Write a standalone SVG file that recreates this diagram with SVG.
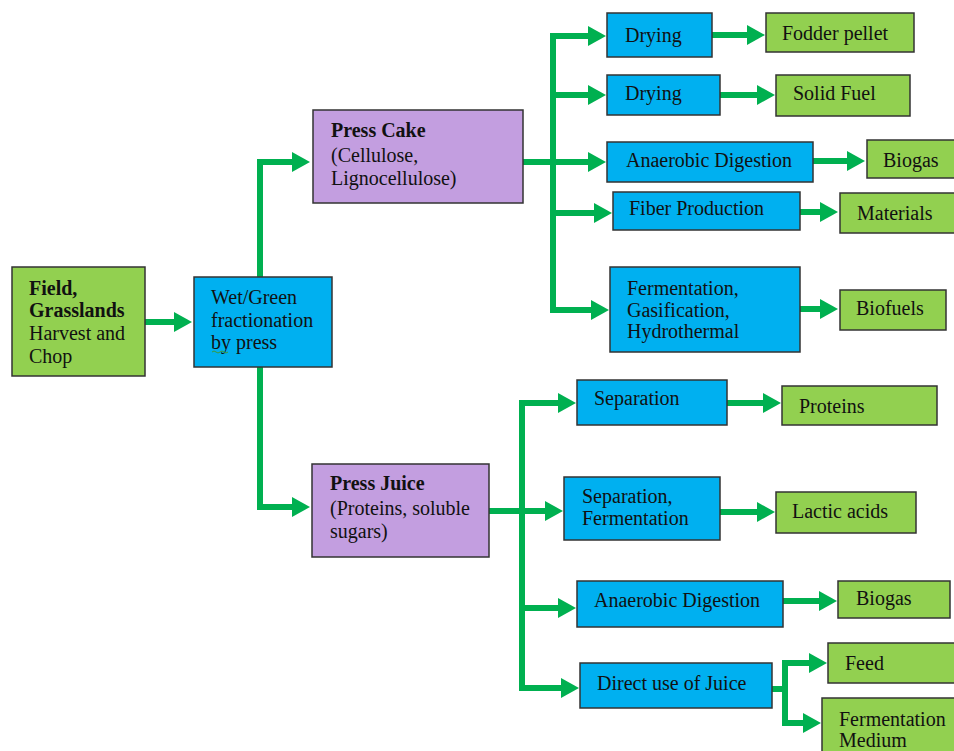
<svg xmlns="http://www.w3.org/2000/svg" width="954" height="751" viewBox="0 0 954 751">
<style>
.g{fill:#92d050;stroke:#333;stroke-width:1.5}
.b{fill:#00b0f0;stroke:#333;stroke-width:1.5}
.p{fill:#c39ee0;stroke:#333;stroke-width:1.5}
text{font-family:"Liberation Serif","Times New Roman",serif;font-size:20px;fill:#111}
.bd{font-weight:bold}
.c path{fill:none;stroke:#00b050;stroke-width:6}
.c path.a{marker-end:url(#ah)}
</style>
<defs>
<marker id="ah" markerUnits="userSpaceOnUse" markerWidth="18" markerHeight="20" refX="2" refY="10" orient="auto">
<path d="M0,0 L18,10 L0,20 z" fill="#00b050"/>
</marker>
</defs>
<rect width="954" height="751" fill="#fff"/>
<g class="c" id="connectors">
<path class="a" d="M145,322 H176"/>
<path class="a" d="M260,277 V162 H294"/>
<path class="a" d="M260,367 V507 H294"/>
<path d="M523,162 H553"/>
<path d="M553,33 V313"/>
<path class="a" d="M550,36 H590"/>
<path class="a" d="M550,95 H590"/>
<path class="a" d="M550,162 H590"/>
<path class="a" d="M556,213 H596"/>
<path class="a" d="M550,310 H593"/>
<path class="a" d="M712,35 H749"/>
<path class="a" d="M720,95 H759"/>
<path class="a" d="M813,161 H849"/>
<path class="a" d="M800,212 H822"/>
<path class="a" d="M800,309 H822"/>
<path class="a" d="M489,511 H547"/>
<path d="M522,400 V691"/>
<path class="a" d="M519,403 H560"/>
<path class="a" d="M519,608 H560"/>
<path class="a" d="M519,688 H563"/>
<path class="a" d="M727,403 H765"/>
<path class="a" d="M720,512 H759"/>
<path class="a" d="M783,601 H821"/>
<path d="M772,689 H785"/>
<path d="M785,660 V726"/>
<path class="a" d="M782,663 H811"/>
<path class="a" d="M782,723 H805"/>
</g>
<g id="field"><rect class="g" x="12" y="267" width="133" height="109"/>
<text x="29" y="295" class="bd">Field,</text><text x="29" y="317" class="bd">Grasslands</text><text x="29" y="340">Harvest and</text><text x="29" y="363">Chop</text></g>
<g id="wet"><rect class="b" x="194" y="277" width="138" height="90"/>
<text x="211" y="304">Wet/Green</text><text x="211" y="327">fractionation</text><text x="211" y="349">by press</text>
<path d="M212,352 q2,-2 4,0 t4,0 t4,0 t4,0" fill="none" stroke="#3a9a3a" stroke-width="1"/></g>
<g id="presscake"><rect class="p" x="313" y="110" width="210" height="93"/>
<text x="331" y="137" class="bd">Press Cake</text><text x="331" y="162">(Cellulose,</text><text x="331" y="185">Lignocellulose)</text></g>
<g id="pressjuice"><rect class="p" x="312" y="464" width="177" height="93"/>
<text x="330" y="490" class="bd">Press Juice</text><text x="330" y="515">(Proteins, soluble</text><text x="330" y="538">sugars)</text></g>
<g id="drying1"><rect class="b" x="607" y="13" width="105" height="44"/><text x="625" y="42">Drying</text></g>
<g id="drying2"><rect class="b" x="607" y="75" width="113" height="40"/><text x="625" y="100">Drying</text></g>
<g id="ad1"><rect class="b" x="607" y="142" width="206" height="40"/><text x="626" y="167">Anaerobic Digestion</text></g>
<g id="fiber"><rect class="b" x="613" y="192" width="187" height="38"/><text x="629" y="215">Fiber Production</text></g>
<g id="ferm"><rect class="b" x="610" y="267" width="190" height="85"/>
<text x="627" y="295">Fermentation,</text><text x="627" y="317">Gasification,</text><text x="627" y="338">Hydrothermal</text></g>
<g id="fodder"><rect class="g" x="766" y="13" width="148" height="39"/><text x="782" y="40">Fodder pellet</text></g>
<g id="solidfuel"><rect class="g" x="776" y="75" width="134" height="41"/><text x="793" y="100">Solid Fuel</text></g>
<g id="biogas1"><rect class="g" x="867" y="140" width="95" height="38"/><text x="883" y="167">Biogas</text></g>
<g id="materials"><rect class="g" x="840" y="193" width="122" height="40"/><text x="857" y="220">Materials</text></g>
<g id="biofuels"><rect class="g" x="840" y="290" width="106" height="40"/><text x="856" y="315">Biofuels</text></g>
<g id="sep"><rect class="b" x="577" y="380" width="150" height="45"/><text x="594" y="405">Separation</text></g>
<g id="sepferm"><rect class="b" x="564" y="477" width="156" height="63"/><text x="582" y="503">Separation,</text><text x="582" y="525">Fermentation</text></g>
<g id="ad2"><rect class="b" x="577" y="581" width="206" height="46"/><text x="594" y="607">Anaerobic Digestion</text></g>
<g id="direct"><rect class="b" x="580" y="663" width="192" height="45"/><text x="597" y="690">Direct use of Juice</text></g>
<g id="proteins"><rect class="g" x="782" y="386" width="155" height="39"/><text x="799" y="413">Proteins</text></g>
<g id="lactic"><rect class="g" x="776" y="492" width="140" height="41"/><text x="792" y="518">Lactic acids</text></g>
<g id="biogas2"><rect class="g" x="838" y="581" width="112" height="37"/><text x="856" y="605">Biogas</text></g>
<g id="feed"><rect class="g" x="828" y="643" width="134" height="40"/><text x="845" y="670">Feed</text></g>
<g id="fmedium"><rect class="g" x="822" y="698" width="140" height="60"/><text x="839" y="726">Fermentation</text><text x="839" y="747">Medium</text></g>
</svg>
